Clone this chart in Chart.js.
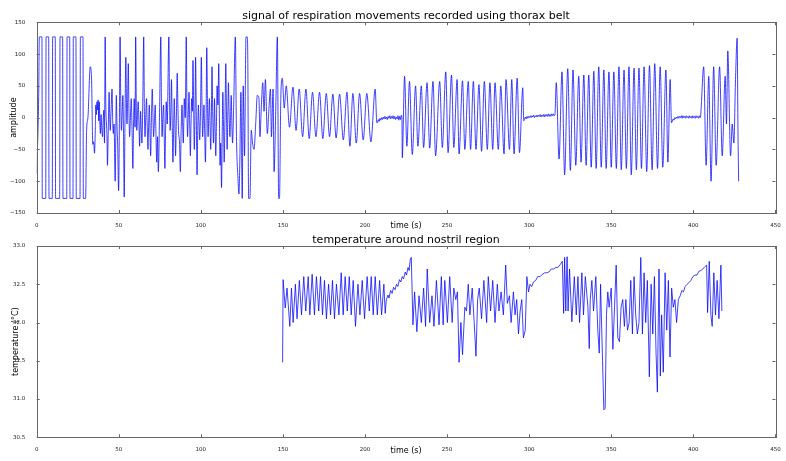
<!DOCTYPE html>
<html>
<head>
<meta charset="utf-8">
<script src="https://cdn.jsdelivr.net/npm/chart.js@4.4.1/dist/chart.umd.min.js"></script>
<style>
  body { margin: 0; background: #fff; }
  #wrap { position: relative; width: 786px; height: 461px; overflow: hidden; }
  #respChart { position: absolute; left: 0; top: 0; }
  #tempChart { position: absolute; left: 0; top: 232px; }
</style>
</head>
<body>
<div id="wrap">
  <canvas id="respChart" width="786" height="236"></canvas>
  <canvas id="tempChart" width="786" height="229"></canvas>
</div>
<script>
// ---- data: [time (s), value] ----

// thorax belt, calibration square wave at the start
const squareWave = [
  [0, -88], [1.2, 33], [1.6, 127], [3.2, 127], [3.4, -127], [5.5, -127], [5.7, 127], [7.3, 127],
  [7.5, -127], [9.5, -127], [9.7, 127], [11.3, 127], [11.5, -127], [14.0, -127], [14.2, 127],
  [15.8, 127], [16.0, -127], [18.3, -127], [18.5, 127], [20.1, 127], [20.3, -127], [22.1, -127],
  [22.3, 127], [23.9, 127], [24.1, -127], [26.4, -127], [26.6, 127], [28.2, 127], [28.4, -127],
  [29.8, -127]
];

// irregular movements, 30 - 150 s
const irregularPart = [
  [30.4, -20], [31.2, 0], [32.6, 80], [33.4, 62], [34.2, -42], [34.7, -38], [35.2, -56], [35.7, -20],
  [36, 20], [36.4, 5], [36.7, 25], [37.1, 12], [37.4, 28], [37.8, -5], [38.1, 25], [38.5, -10],
  [38.8, -25], [39.2, 5], [39.6, -15], [40.1, -30], [40.5, -5], [40.9, 12], [41.3, -40], [41.7, 127],
  [42.1, 20], [42.5, -10], [42.8, -30], [43.1, -75], [43.6, -20], [44.1, 40], [44.5, 0], [44.8, -20],
  [45.3, 10], [45.9, 45], [46.3, -5], [46.7, -25], [47.1, -10], [47.8, -100], [48.2, -20], [48.5, 35],
  [48.9, -10], [49.3, -40], [49.9, -115], [50.4, 0], [50.8, 127], [51.2, 30], [51.6, -20], [52.1, 10],
  [52.5, 35], [52.9, -30], [53.3, -125], [53.8, 0], [54.3, 95], [54.7, 20], [55, -10], [55.4, 30],
  [55.8, 85], [56.2, 10], [56.6, -30], [57.1, 0], [57.6, 30], [58.1, -20], [58.6, -80], [59, -10],
  [59.4, 30], [59.9, -15], [60.3, 127], [60.7, 10], [61, -20], [61.4, 5], [61.8, 25], [62.3, -10],
  [62.7, -45], [63, -15], [63.3, 10], [63.7, -20], [64.1, -40], [64.6, 20], [65.2, 127], [65.6, 10],
  [66, -30], [66.4, 0], [66.9, 30], [67.3, -10], [67.8, -50], [68.2, -10], [68.6, 20], [69, -20],
  [69.4, -60], [69.9, 0], [70.4, 45], [70.8, 5], [71.2, -30], [71.7, -5], [72.2, 20], [72.6, -20],
  [73.1, -70], [73.6, -30], [74.1, -85], [74.8, 0], [75.6, 127], [76, 20], [76.4, -30], [76.8, 0],
  [77.3, 20], [77.7, -30], [78.1, -80], [78.5, -20], [78.9, 25], [79.5, -10], [80.5, 127], [80.9, 30],
  [81.3, -20], [81.7, 10], [82.1, 60], [82.5, 0], [83, -70], [83.4, -20], [83.8, 30], [84.2, -10],
  [84.6, -60], [85.1, 0], [85.6, 70], [86, 20], [86.4, -20], [87, -40], [87.5, -85], [88, -20],
  [88.5, 20], [88.9, -10], [89.3, -40], [89.6, -10], [89.9, 30], [90.5, 0], [91.1, 127], [91.5, 20],
  [91.9, -30], [92.3, 0], [92.8, 40], [93.2, -10], [93.6, -60], [94, -10], [94.4, 30], [94.8, 10],
  [95.2, 90], [95.6, 20], [96, -50], [96.4, 0], [96.8, 95], [97.2, 10], [97.7, -90], [98.1, -20],
  [98.5, 20], [98.9, -10], [99.3, -35], [99.8, 10], [100.3, 95], [100.7, 20], [101.1, -30], [101.5, -5],
  [101.9, 20], [102.3, -20], [102.8, -70], [103.2, 0], [103.6, 110], [104, 30], [104.4, -30], [104.8, 0],
  [105.2, 30], [105.6, -10], [106, -50], [106.4, 0], [106.8, 80], [107.2, 10], [107.7, -40], [108, -10],
  [108.3, 30], [108.7, -20], [109.1, -60], [109.5, -10], [109.9, 50], [110.4, 20], [110.9, 85], [111.3, 0],
  [111.7, -75], [112.1, -40], [112.6, -110], [113, -30], [113.4, 40], [113.8, -10], [114.2, -70],
  [114.7, 0], [115.2, 85], [115.6, 10], [116, -50], [116.4, 0], [116.8, 55], [117.2, 10], [117.7, -30],
  [118.1, 0], [118.5, 35], [118.9, -10], [119.3, -40], [120, 20], [121, 127], [121.7, -30], [122.6, -95],
  [123.2, -120], [123.8, -60], [124.4, 40], [125.2, -127], [125.8, 50], [126.6, -60], [127.5, 127],
  [128.3, 127], [128.6, 90], [129.1, -127], [129.9, -127], [130.7, -20], [131.5, -40], [132.4, -50],
  [133.4, -10], [134.4, 35], [135.4, 30], [136, -30], [136.8, 15], [137.7, 55], [138.5, 10], [139.3, 60],
  [140.5, -25], [141.5, 15], [142.4, 45], [143, -30], [144, 45], [144.6, -85], [145.6, 10], [146.6, 127],
  [147.4, -127], [147.9, -127], [148.7, 30], [149.6, 62], [150.8, 15]
];

// regular shallow breathing, 150 - 207 s
const steadyBreath = [
  [152, 50], [154, -15], [156.1, 48], [158, -20], [159.9, 45], [162, -30], [164, 45], [166, -33],
  [168, 40], [170.1, -30], [172.3, 40], [174.3, -33], [176.4, 38], [178.4, -30], [180.4, 37],
  [182.4, -32], [184.5, 37], [186.8, -35], [189, 40], [190.8, -45], [192.6, 38], [194.7, -40],
  [196.7, 38], [198.9, -35], [201.1, 38], [203.6, -38], [206.2, 45], [207.2, -8]
];

const quietRest1 = [
  [207.6, -8], [208.1, -3], [208.6, -6], [209.1, -1], [209.6, -4], [210.1, 0], [210.6, -3], [211.1, 1],
  [211.6, -2], [212.1, 2], [212.6, -2], [213.1, 1], [213.6, -3], [214.1, 2], [214.6, -1], [215.1, 3],
  [215.6, -2], [216.1, 2], [216.6, -1], [217.1, 3], [217.6, -2], [218.1, 2], [218.6, -3], [219.1, 1],
  [219.6, -2], [220.1, 3], [220.6, -4], [221.1, 2], [221.6, -3], [222.1, 4], [222.5, -2]
];

const deepBreath1 = [
  [222.7, -63], [224.1, 65], [225.5, -45], [227.1, 57], [228.8, -58], [230.8, 50], [232.2, -45],
  [234.3, 50], [235.7, -47], [237.8, 55], [239.4, -48], [241.4, 57], [243, -60], [245.5, 57],
  [247.1, -47], [249.2, 72], [250.6, -55], [252.7, 67], [254.1, -47], [256.1, 60], [257.3, -57],
  [259.4, 58], [260.8, -50], [262.9, 57], [264.3, -50], [266, 57], [267.6, -50], [269.4, 52],
  [271, -53], [272.7, 57], [274.5, -50], [276.1, 55], [277.8, -50], [279.2, 55], [281.2, -50],
  [282.7, 50], [284.7, -57], [285.9, 60], [288, -50], [289.4, 60], [290.8, -57], [292.7, 62],
  [294.1, -55], [296.1, 47], [296.7, -5]
];

const quietRest2 = [
  [297.2, -3], [297.7, 1], [298.2, -2], [298.7, 2], [299.2, -1], [299.7, 2], [300.2, 0], [300.7, 3],
  [301.2, 0], [301.7, 3], [302.2, 1], [302.7, 4], [303.2, 0], [303.7, 3], [304.2, 1], [304.7, 4],
  [305.2, 1], [305.7, 4], [306.2, 2], [306.7, 5], [307.2, 1], [307.7, 4], [308.2, 2], [308.7, 5],
  [309.2, 1], [309.7, 5], [310.2, 2], [310.7, 5], [311.2, 2], [311.7, 6], [312.2, 2], [312.7, 5],
  [313.2, 2], [313.7, 6], [314.2, 3], [314.7, 6], [315.2, 3], [315.7, 5]
];

const deepBreath2 = [
  [316.5, 55], [318.2, -65], [320, 72], [321.6, -90], [323.5, 77], [325.1, -83], [326.7, 75],
  [328.4, -75], [330.2, 65], [331.6, -70], [333.3, 67], [334.7, -75], [336.3, 67], [337.8, -78],
  [339.4, 73], [340.8, -80], [342.4, 80], [343.9, -78], [345.5, 75], [346.9, -80], [348.6, 72],
  [350, -78], [351.6, 72], [353.1, -80], [354.7, 80], [356.1, -82], [357.8, 75], [359.2, -80],
  [360.8, 80], [362.2, -90], [363.9, 78], [365.3, -82], [366.9, 78], [368.4, -80], [370, 80],
  [371.6, -85], [373.3, 82], [374.9, -82], [376.5, 85], [378.2, -80], [379.8, 80], [381.4, -78],
  [383.3, 75], [384.5, -70], [385.9, 60], [386.7, -8]
];

const quietRest3 = [
  [387.2, -6], [387.7, -2], [388.2, -4], [388.7, 0], [389.2, -2], [389.7, 1], [390.2, -1], [390.7, 2],
  [391.2, -1], [391.7, 2], [392.2, 0], [392.7, 3], [393.2, -1], [393.7, 3], [394.2, 0], [394.7, 2],
  [395.2, -1], [395.7, 3], [396.2, 0], [396.7, 2], [397.2, -1], [397.7, 3], [398.2, 0], [398.7, 2],
  [399.2, -1], [399.7, 3], [400.2, 0], [400.7, 2], [401.2, -1], [401.7, 3], [402.2, 0], [402.7, 2],
  [403.2, -1], [403.7, 3], [404.2, 0]
];

const finalBreath = [
  [406.3, 80], [407.8, -75], [409.4, 65], [410.8, -100], [412.4, 80], [413.9, -75], [416, 80],
  [417.6, -60], [419.4, 65], [420.2, -10], [421, 105], [422.7, -60], [423.7, -10], [424.7, -40],
  [425.7, 60], [426.7, 125], [427.2, -20], [427.6, -100]
];

// nostril temperature (°C)
const tempPartA = [
  [149.8, 31.48], [150.1, 32.56], [151.4, 32.19], [152.5, 32.45], [154.2, 31.95], [155.2, 32.45],
  [156.2, 32.0], [157.6, 32.5], [158.6, 32.05], [160, 32.55], [161.3, 32.1], [162.7, 32.6],
  [163.9, 32.15], [165.4, 32.6], [166.4, 32.1], [167.8, 32.63], [169.2, 32.1], [170.4, 32.6],
  [171.8, 32.15], [172.9, 32.6], [174.1, 32.1], [175.3, 32.55], [176.5, 32.05], [177.8, 32.5],
  [179, 32.1], [180.2, 32.55], [181.4, 32.05], [182.6, 32.5], [184.1, 32.1], [185.5, 32.65],
  [186.7, 32.1], [187.9, 32.6], [189.2, 32.15], [190.4, 32.6], [191.6, 32.1], [192.8, 32.55],
  [194.2, 31.95], [195.7, 32.5], [196.9, 32.1], [198.3, 32.55], [199.7, 32.05], [201.3, 32.6],
  [202.6, 32.15], [203.8, 32.6], [205, 32.1], [206.2, 32.6], [207.5, 32.1], [208.9, 32.55],
  [210.1, 32.1], [211.5, 32.5], [212.3, 32.12]
];

const tempRiseA = [
  [213, 32.3], [214, 32.36], [214.6, 32.32], [215.6, 32.42], [216.5, 32.38], [217.4, 32.46],
  [218.3, 32.43], [219.2, 32.5], [220, 32.47], [221, 32.56], [221.8, 32.53], [222.7, 32.6],
  [223.5, 32.57], [224.5, 32.66], [225.3, 32.62], [226.2, 32.72], [226.9, 32.68], [227.6, 32.83],
  [228.2, 32.85]
];

const tempPartB = [
  [229.2, 31.97], [230.2, 32.4], [231.6, 31.88], [232.9, 32.35], [234.3, 32.0], [235.7, 32.45],
  [236.9, 31.95], [237.9, 32.7], [239.4, 32.0], [240.8, 32.35], [242, 31.95], [243.5, 32.55],
  [245.1, 31.97], [246.5, 32.6], [247.6, 31.97], [248.6, 32.55], [250.2, 32.0], [251.6, 32.6],
  [253.1, 32.0], [254.1, 32.45], [255.3, 32.3], [256.3, 32.4], [257.3, 31.48], [258.4, 32.0],
  [259.4, 31.58], [260.8, 32.2], [261.8, 32.15], [262.9, 32.5], [263.9, 32.1], [265.3, 32.45],
  [266.5, 32.0], [267.6, 31.56], [268.6, 32.3], [269.6, 32.45], [271, 32.05], [272.4, 32.55],
  [274.1, 32.0], [275.1, 32.6], [276.5, 32.15], [277.8, 32.55], [279.2, 32.0], [280.6, 32.5],
  [281.6, 32.15], [282.9, 32.4], [284.3, 32.1], [285.7, 32.75], [286.7, 32.25], [288, 32.35],
  [289, 32.0], [290.4, 32.4], [291.4, 32.1], [292.4, 32.3], [293.5, 31.85], [294.5, 32.15],
  [295.5, 32.3], [296.5, 31.8], [297.6, 31.9], [298.6, 32.6], [299.6, 32.4]
];

const tempRiseB = [
  [300.5, 32.5], [301.5, 32.47], [302.7, 32.53], [304, 32.55], [305.2, 32.6], [306.7, 32.6],
  [308, 32.63], [309.5, 32.65], [310.8, 32.65], [312, 32.66], [313.5, 32.7], [314.9, 32.7],
  [316.3, 32.72], [317.5, 32.72], [319, 32.76], [320.2, 32.8]
];

const tempPartC = [
  [321, 32.12], [321.6, 32.85], [322.3, 32.15], [323.1, 32.86], [323.7, 32.15], [324.6, 32.7],
  [326, 32.01], [327.5, 32.6], [328.7, 32.1], [329.7, 32.6], [330.7, 32.0], [332.1, 32.65],
  [333.1, 32.1], [334.2, 32.6], [335.8, 32.2], [336.6, 31.66], [337.2, 32.3], [338.2, 32.55],
  [339.2, 32.15], [340.6, 32.6], [341.8, 31.9], [342.7, 31.6], [343.5, 32.5], [344.7, 31.5],
  [345.5, 30.86], [346.3, 30.88], [347.1, 32.1], [347.9, 32.4], [348.7, 32.2], [350, 32.45],
  [351, 31.65], [352, 32.2], [353, 32.75], [354, 31.8], [355, 31.75], [356, 32.2], [357, 32.3],
  [358, 31.95], [358.9, 32.3], [359.9, 31.9], [360.9, 32.0], [361.9, 32.55], [362.9, 31.85],
  [363.9, 32.6], [364.9, 32.1], [365.9, 31.85], [366.9, 32.0], [368, 32.85], [369, 31.85],
  [370, 32.65], [371, 32.0], [372, 32.55], [373.2, 31.29], [374.3, 32.5], [375.3, 31.85],
  [376.3, 32.6], [377.3, 31.6], [378.1, 31.09], [379.1, 32.7], [379.9, 31.3], [380.7, 32.1],
  [381.7, 31.35], [382.8, 32.65], [383.8, 31.9], [384.8, 32.55], [385.8, 31.55], [386.8, 32.45],
  [387.8, 32.2], [388.8, 32.3], [389.8, 32.0], [390.9, 32.3]
];

const tempRiseC = [
  [392, 32.35], [393, 32.42], [394, 32.4], [395, 32.47], [396.2, 32.5], [397.3, 32.52],
  [398.5, 32.55], [399.7, 32.6], [401, 32.62], [402.2, 32.62], [403.4, 32.67], [404.6, 32.68],
  [405.8, 32.7], [407, 32.73], [408.1, 32.75]
];

const tempPartD = [
  [408.7, 32.13], [409.7, 32.8], [410.7, 32.1], [411.5, 31.95], [412.5, 32.65], [413.5, 32.1],
  [414.5, 32.55], [415.6, 32.05], [416.8, 32.75], [417.4, 32.15]
];

// axis tick values
const timeTicks = [0, 50, 100, 150, 200, 250, 300, 350, 400, 450];
const ampTicks = [-150, -100, -50, 0, 50, 100, 150];
const tempTicks = [30.5, 31.0, 31.5, 32.0, 32.5, 33.0];

// -----------------------------------------------------------------

Chart.defaults.font.family = "'DejaVu Sans', sans-serif";
Chart.defaults.color = '#222';

const respPoints = [].concat(squareWave, irregularPart, steadyBreath, quietRest1, deepBreath1,
  quietRest2, deepBreath2, quietRest3, finalBreath).map(p => ({ x: p[0], y: p[1] }));
const tempPoints = [].concat(tempPartA, tempRiseA, tempPartB, tempRiseB, tempPartC,
  tempRiseC, tempPartD).map(p => ({ x: p[0], y: p[1] }));

// matplotlib-like frame with inward ticks on all four sides
const frameTicks = {
  id: 'frameTicks',
  afterDatasetsDraw(chart, args, opts) {
    const { ctx, chartArea: a, scales } = chart;
    ctx.save();
    ctx.strokeStyle = '#666';
    ctx.lineWidth = 1;
    ctx.beginPath();
    opts.xTicks.forEach(v => {
      const px = Math.round(scales.x.getPixelForValue(v)) + 0.5;
      ctx.moveTo(px, a.bottom); ctx.lineTo(px, a.bottom - 3);
      ctx.moveTo(px, a.top); ctx.lineTo(px, a.top + 3);
    });
    opts.yTicks.forEach(v => {
      const py = Math.round(scales.y.getPixelForValue(v)) + 0.5;
      ctx.moveTo(a.left, py); ctx.lineTo(a.left + 3, py);
      ctx.moveTo(a.right, py); ctx.lineTo(a.right - 3, py);
    });
    ctx.stroke();
    ctx.strokeRect(Math.round(a.left) + 0.5, Math.round(a.top) + 0.5,
      Math.round(a.right - a.left), Math.round(a.bottom - a.top));
    ctx.restore();
  }
};

function makeChart(canvasId, points, cfg) {
  return new Chart(document.getElementById(canvasId), {
    type: 'line',
    data: {
      datasets: [{
        data: points,
        borderColor: 'rgb(0, 0, 255)',
        borderWidth: 0.75,
        pointRadius: 0,
        tension: cfg.smooth ? 0.4 : 0,
        cubicInterpolationMode: cfg.smooth ? 'monotone' : 'default',
        fill: false
      }]
    },
    options: {
      responsive: false,
      animation: false,
      devicePixelRatio: 1,
      layout: { padding: { left: 0, right: 10.6, top: 0, bottom: 0 } },
      plugins: {
        legend: { display: false },
        tooltip: { enabled: false },
        title: {
          display: true,
          fullSize: false,   // centre over the plot area, like matplotlib
          text: cfg.title,
          color: '#000',
          font: { size: 11, weight: 'normal', lineHeight: 1 },
          padding: cfg.titlePad
        },
        frameTicks: { xTicks: timeTicks, yTicks: cfg.yTicks }
      },
      scales: {
        x: {
          type: 'linear',
          min: 0,
          max: 450,
          afterFit: s => { s.height = cfg.xHeight; },
          afterBuildTicks: s => { s.ticks = timeTicks.map(v => ({ value: v })); },
          ticks: { autoSkip: false, maxRotation: 0, padding: 1, font: { size: 5.5 } },
          grid: { display: false },
          border: { display: false },
          title: {
            display: true,
            text: 'time (s)',
            color: '#000',
            font: { size: 8 },
            padding: { top: 0, bottom: cfg.xTitlePad }
          }
        },
        y: {
          min: cfg.yMin,
          max: cfg.yMax,
          afterFit: s => { s.width = 36.7; },
          afterBuildTicks: s => { s.ticks = cfg.yTicks.map(v => ({ value: v })); },
          ticks: { padding: 3.5, font: { size: 5.5 }, callback: cfg.yFormat },
          grid: { display: false },
          border: { display: false },
          title: {
            display: true,
            text: cfg.yLabel,
            color: '#000',
            font: { size: 8 },
            padding: { top: cfg.yLabelX - 4.8, bottom: 0 }
          }
        }
      }
    },
    plugins: [frameTicks]
  });
}

makeChart('respChart', respPoints, {
  title: 'signal of respiration movements recorded using thorax belt',
  titlePad: { top: 10.5, bottom: 0.8 },
  xHeight: 23,
  xTitlePad: 4.9,
  yMin: -150,
  yMax: 150,
  yTicks: ampTicks,
  yLabel: 'amplitude',
  yLabelX: 14.2,
  yFormat: v => String(v).replace('-', '\u2212'),
  smooth: true
});

makeChart('tempChart', tempPoints, {
  title: 'temperature around nostril region',
  titlePad: { top: 2.5, bottom: 0.5 },
  xHeight: 23.7,
  xTitlePad: 5.7,
  yMin: 30.5,
  yMax: 33.0,
  yTicks: tempTicks,
  yLabel: 'temperature (°C)',
  yLabelX: 16.3,
  yFormat: v => Number(v).toFixed(1),
  smooth: false
});
</script>
</body>
</html>
